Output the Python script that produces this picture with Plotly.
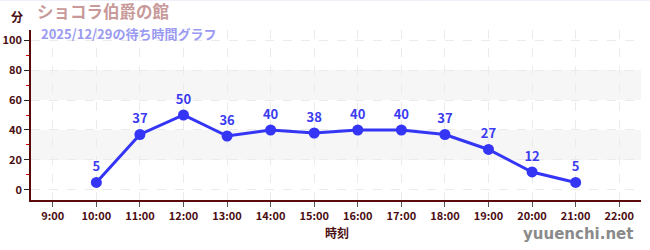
import plotly.graph_objects as go

hours = [10, 11, 12, 13, 14, 15, 16, 17, 18, 19, 20, 21]
waits = [5, 37, 50, 36, 40, 38, 40, 40, 37, 27, 12, 5]
tick_hours = list(range(9, 23))
tick_labels = [f"{h}:00" for h in tick_hours]
y_ticks = [0, 20, 40, 60, 80, 100]
bands = [(20, 40), (60, 80)]

title_text = "ショコラ伯爵の館"
subtitle_text = "2025/12/29の待ち時間グラフ"
y_unit = "分"
x_title = "時刻"
watermark = "yuuenchi.net"

FONT = "Noto Sans CJK JP"
AXIS_COLOR = "#5a0a0a"
LABEL_COLOR = "#4a0d12"
LINE_COLOR = "#3535f5"

fig = go.Figure()
fig.add_trace(go.Scatter(
    x=hours, y=waits, mode="lines+markers+text",
    text=[str(v) for v in waits], textposition="top center",
    textfont=dict(family=FONT, size=13, color="#3b3bf0", weight="bold"),
    line=dict(color=LINE_COLOR, width=3),
    marker=dict(color=LINE_COLOR, size=11),
    cliponaxis=False, hoverinfo="skip",
))

shapes = []
for y0, y1 in bands:
    shapes.append(dict(type="rect", xref="paper", yref="y", x0=0, x1=1, y0=y0, y1=y1,
                       fillcolor="#f6f6f6", line=dict(width=0), layer="below"))
shapes.append(dict(type="line", xref="paper", yref="paper", x0=-0.1, x1=1.1, y0=1.176, y1=1.176,
                   line=dict(color="#e4e4f4", width=1)))

fig.update_layout(
    width=650, height=250,
    margin=dict(l=31, r=9, t=30, b=50),
    paper_bgcolor="white", plot_bgcolor="white",
    showlegend=False,
    shapes=shapes,
    font=dict(family=FONT),
    xaxis=dict(
        range=[8.5, 22.5], tickvals=tick_hours, ticktext=tick_labels,
        showline=True, linecolor=AXIS_COLOR, linewidth=1.5,
        ticks="outside", ticklen=5, tickcolor="#555555",
        tickfont=dict(family=FONT, size=11, color=LABEL_COLOR, weight="bold"),
        showgrid=True, gridcolor="#ebebeb", griddash="dash", gridwidth=1,
        zeroline=False, fixedrange=True, automargin=False,
    ),
    yaxis=dict(
        range=[-6.7, 106.7], tickvals=y_ticks,
        showline=True, linecolor=AXIS_COLOR, linewidth=1.5,
        ticks="outside", ticklen=5, tickcolor="#222222",
        tickfont=dict(family=FONT, size=11, color=LABEL_COLOR, weight="bold"),
        showgrid=True, gridcolor="#ebebeb", griddash="dash", gridwidth=1,
        zeroline=False, fixedrange=True, automargin=False,
        minor=dict(dtick=10, tick0=0, ticks="outside", ticklen=3, tickcolor="#dd0000", showgrid=False),
    ),
    annotations=[
        dict(text=title_text, xref="paper", yref="paper", x=(35 - 31) / 610, y=(250 - 11.5 - 50) / 170,
             xanchor="left", yanchor="middle", showarrow=False,
             font=dict(family=FONT, size=16.5, color="#c89a9a", weight="bold")),
        dict(text=subtitle_text, xref="paper", yref="paper", x=(39 - 31) / 610, y=(250 - 33 - 50) / 170,
             xanchor="left", yanchor="middle", showarrow=False,
             font=dict(family=FONT, size=13, color="#9a9af2", weight="bold")),
        dict(text=y_unit, xref="paper", yref="paper", x=(17 - 31) / 610, y=(250 - 16 - 50) / 170,
             xanchor="center", yanchor="middle", showarrow=False,
             font=dict(family=FONT, size=12, color=LABEL_COLOR, weight="bold")),
        dict(text=x_title, xref="paper", yref="paper", x=(337 - 31) / 610, y=(250 - 232 - 50) / 170,
             xanchor="center", yanchor="middle", showarrow=False,
             font=dict(family=FONT, size=12, color=LABEL_COLOR, weight="bold")),
        dict(text=watermark, xref="paper", yref="paper", x=(635 - 31) / 610, y=(250 - 234 - 50) / 170,
             xanchor="right", yanchor="middle", showarrow=False,
             font=dict(family="DejaVu Sans", size=15, color="#8a8a8a", weight="bold")),
    ],
)

fig.write_html("out.html")
